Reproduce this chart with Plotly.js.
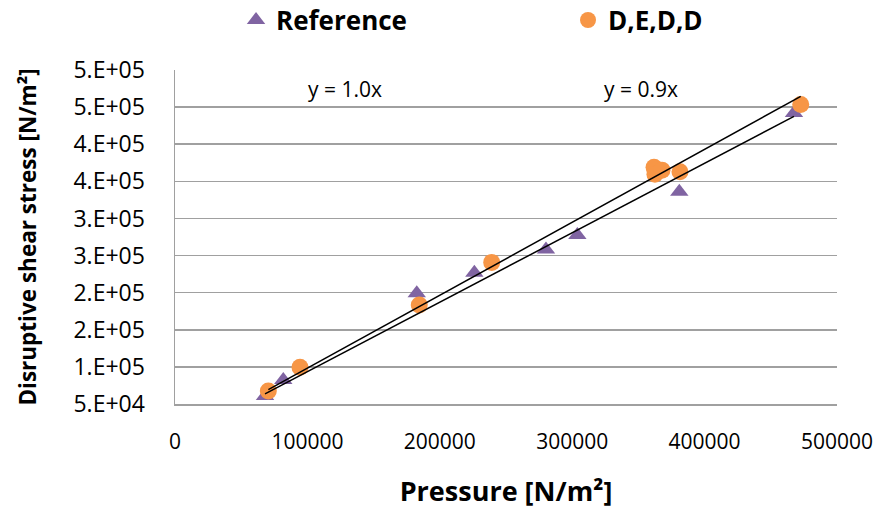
<!DOCTYPE html>
<html>
<head>
<meta charset="utf-8">
<script src="https://cdn.plot.ly/plotly-3.0.1.min.js"></script>
<style>
  html, body { margin: 0; padding: 0; background: #fff; }
  #chart { width: 894px; height: 516px; }
</style>
</head>
<body>
<div id="chart"></div>
<script>
// ---- Data ----
const refName = "Reference";
const refX = [68000, 81800, 182600, 226100, 280200, 303900, 380900, 467500];
const refY = [60800, 82300, 199100, 226800, 258200, 277600, 335900, 441900];

const dedName = "D,E,D,D";
const dedX = [70500, 94400, 184500, 239200, 361800, 362500, 367800, 381400, 472600];
const dedY = [67500, 99400, 183300, 240800, 369100, 359700, 365100, 362800, 453600];

const xTickVals = [0, 100000, 200000, 300000, 400000, 500000];
const xTickText = ["0", "100000", "200000", "300000", "400000", "500000"];
const yTickVals = [50000, 100000, 150000, 200000, 250000, 300000, 350000, 400000, 450000, 500000];
const yTickText = ["5.E+04", "1.E+05", "2.E+05", "2.E+05", "3.E+05", "3.E+05", "4.E+05", "4.E+05", "5.E+05", "5.E+05"];

// ---- Linear trendlines through the origin (least squares, like Excel) ----
function slopeThroughOrigin(xs, ys) {
  let sxy = 0, sxx = 0;
  for (let i = 0; i < xs.length; i++) { sxy += xs[i] * ys[i]; sxx += xs[i] * xs[i]; }
  return sxy / sxx;
}
function trendTrace(xs, ys) {
  const k = slopeThroughOrigin(xs, ys);
  const x0 = Math.min(...xs), x1 = Math.max(...xs);
  return {
    k: k,
    trace: {
      x: [x0, x1], y: [k * x0, k * x1], type: "scatter", mode: "lines",
      line: { color: "#000000", width: 1.5 }, showlegend: false, hoverinfo: "skip"
    }
  };
}
const refTrend = trendTrace(refX, refY);
const dedTrend = trendTrace(dedX, dedY);

const FONT = "'Open Sans', 'Noto Sans', sans-serif";

const traces = [
  {
    x: refX, y: refY, name: refName, type: "scatter", mode: "markers",
    marker: { symbol: "triangle-up", size: 16, color: "#8064A2" }
  },
  {
    x: dedX, y: dedY, name: dedName, type: "scatter", mode: "markers",
    marker: { symbol: "circle", size: 17, color: "#F79646" }
  },
  dedTrend.trace,
  refTrend.trace
];

const layout = {
  width: 894, height: 516,
  margin: { l: 175, r: 57, t: 70, b: 112 },
  paper_bgcolor: "#ffffff", plot_bgcolor: "#ffffff",
  font: { family: FONT, color: "#000000", size: 20 },
  showlegend: true,
  legend: {
    orientation: "h", xref: "container", yref: "container",
    x: 0.264, xanchor: "left", y: 0.961, yanchor: "middle",
    font: { family: FONT, size: 26, color: "#000000", weight: "bold" },
    entrywidth: 287, entrywidthmode: "pixels",
    bgcolor: "rgba(0,0,0,0)"
  },
  xaxis: {
    range: [0, 500000], tickvals: xTickVals, ticktext: xTickText,
    showgrid: false, zeroline: false,
    showline: true, linecolor: "#a0a0a0", linewidth: 1.5,
    ticks: "", ticklabelstandoff: 18,
    tickfont: { family: FONT, size: 21, color: "#000000" },
    title: { text: "Pressure [N/m²]", font: { family: FONT, size: 27, color: "#000000", weight: "bold" }, standoff: 28 }
  },
  yaxis: {
    range: [50000, 500000], tickvals: yTickVals, ticktext: yTickText,
    showgrid: true, gridcolor: "#a0a0a0", gridwidth: 1.5, zeroline: false,
    showline: true, linecolor: "#a0a0a0", linewidth: 1.5,
    ticks: "", ticklabelstandoff: 24,
    tickfont: { family: FONT, size: 23, color: "#000000" },
    title: { text: "Disruptive shear stress [N/m²]", font: { family: FONT, size: 22.5, color: "#000000", weight: "bold" }, standoff: 30 }
  },
  annotations: [
    { xref: "paper", yref: "paper", x: 0.257, y: 0.943, xanchor: "center", yanchor: "middle",
      text: "y = " + dedTrend.k.toFixed(1) + "x",
      showarrow: false, font: { family: FONT, size: 21, color: "#000000" } },
    { xref: "paper", yref: "paper", x: 0.704, y: 0.943, xanchor: "center", yanchor: "middle",
      text: "y = " + refTrend.k.toFixed(1) + "x",
      showarrow: false, font: { family: FONT, size: 21, color: "#000000" } }
  ]
};

Plotly.newPlot("chart", traces, layout, { displayModeBar: false, staticPlot: true });
</script>
</body>
</html>
